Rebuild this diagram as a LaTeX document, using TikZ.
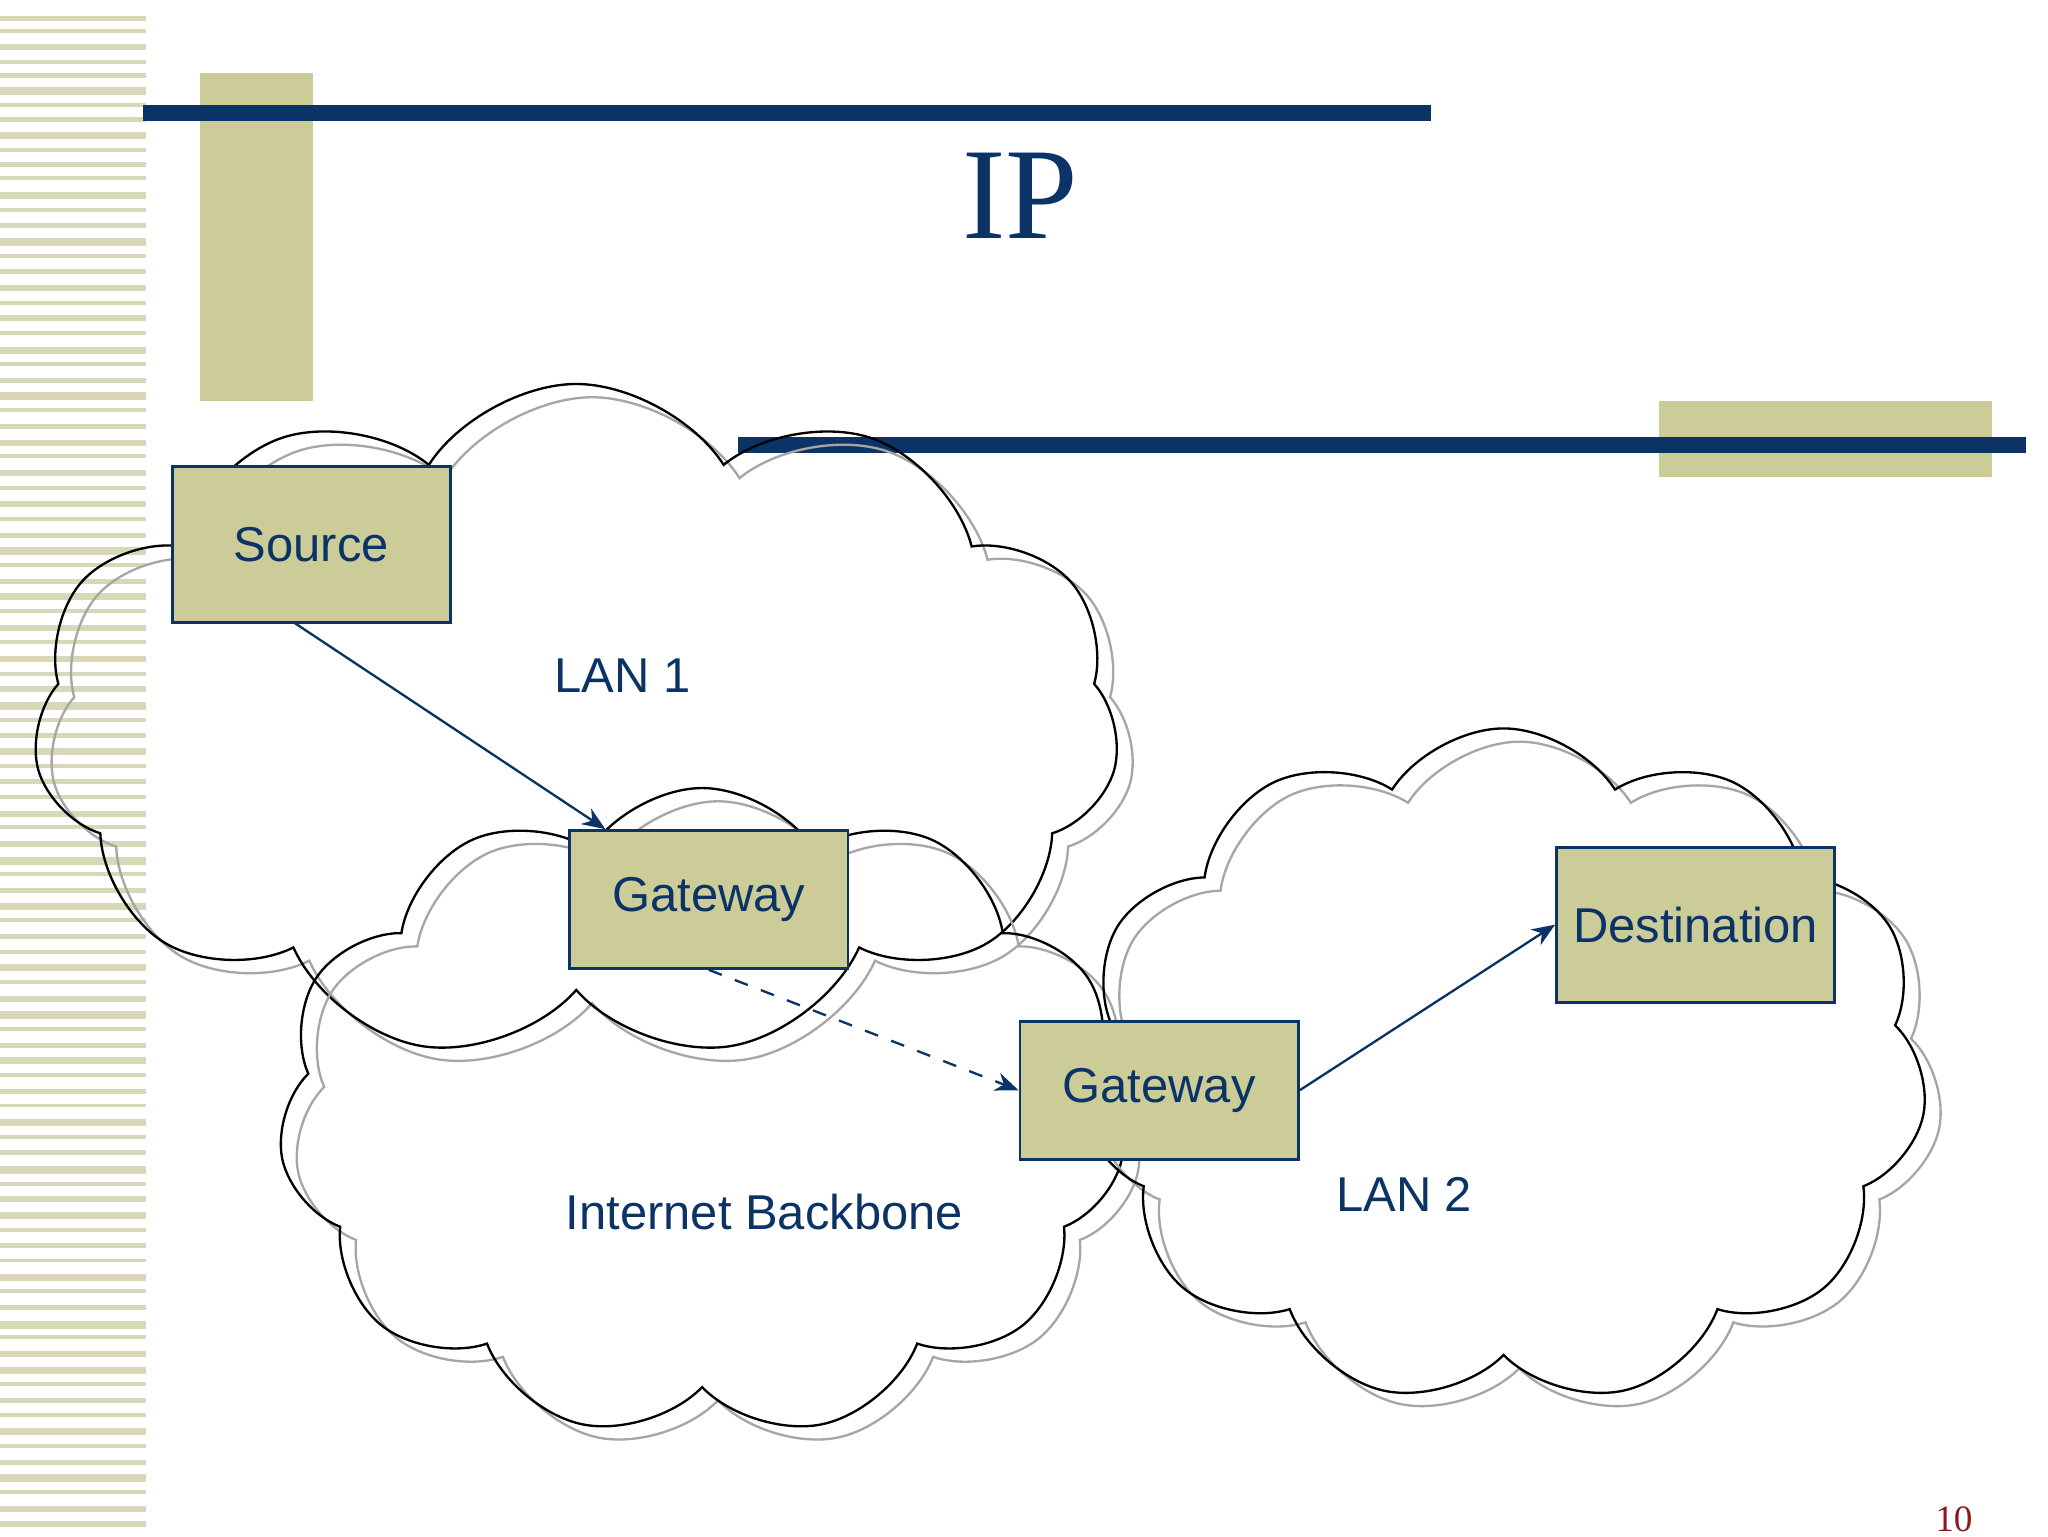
\documentclass[tikz,border=0pt]{standalone}
\usepackage{fontspec}
\setmainfont{Liberation Serif}
\newfontfamily\sans{Liberation Sans}
\usetikzlibrary{shapes.symbols,arrows.meta}
\definecolor{navy}{HTML}{0B3366}
\definecolor{olive}{HTML}{CCCC99}
\definecolor{stripe}{HTML}{D8D8B8}
\definecolor{dred}{HTML}{8B1A1A}
\begin{document}
\begin{tikzpicture}[x=0.01cm,y=-0.01cm,
  box/.style={draw=navy,fill=olive,line width=0.6pt,minimum width=2.1cm,inner sep=0pt,font=\sans\fontsize{10.5}{12}\selectfont,text=navy},
  lbl/.style={font=\sans\fontsize{10.5}{12}\selectfont,text=navy},
  cl/.style={cloud,cloud puffs=11,cloud puff arc=115,aspect=1.4,draw,line width=0.5pt,inner sep=0pt},
  conn/.style={draw=navy,line width=0.5pt,-{Stealth[length=5pt,width=4pt]}}]
\useasboundingbox (0,0) rectangle (1546,1160);
% left stripes
\foreach \y/\t in {12/4,22/3,33/5,45/3,55/4,66/6,78/3,88/4,100/5,112/3,122/4,133/3,145/5,157/3,168/4,180/6,192/3,203/4,215/5,227/3,238/4,250/3,262/5,273/3,285/4,296/6,308/3,320/4,332/5,343/3,355/4,367/3,378/5,390/3,402/4,413/6,425/3,437/4,448/5,460/3,472/4,483/3,495/5,507/3,518/4,530/6,542/3,553/4,565/5,577/3,588/4,600/3,612/5,623/3,635/4,647/6,658/3,670/4,682/5,693/3,705/4,717/3,728/5,740/3,752/4,763/6,775/3,787/4,798/5,810/3,822/4,833/3,845/5,857/3,868/4,880/6,892/3,903/4,915/5,927/3,938/4,950/3,962/5,973/3,985/4,997/6,1008/3,1020/4,1032/5,1043/3,1055/4,1067/3,1078/5,1090/3,1102/4,1113/6,1125/3,1137/4,1148/5}
  \fill[stripe] (0,\y) rectangle (110,\y+\t);
% decorations
\fill[olive] (151,55) rectangle (236,303);
\fill[navy] (108,79) rectangle (1080,91);
\fill[olive] (1252,303) rectangle (1504,360);
\fill[navy] (557,330) rectangle (1529,342);
\node[text=navy,font=\fontsize{28}{30}\selectfont] (title) at (770,148) {IP};
% clouds (shadow + outline)
\node[cl,draw=gray!70,minimum width=8.2cm,minimum height=5.1cm] (s1) at (447,555) {};
\node[cl,minimum width=8.2cm,minimum height=5.1cm] (lan1c) at (435,545) {};
\node[cl,draw=gray!70,minimum width=6.4cm,minimum height=4.9cm] (s2) at (542,850) {};
\node[cl,minimum width=6.4cm,minimum height=4.9cm] (bbc) at (530,840) {};
\node[cl,draw=gray!70,minimum width=6.4cm,minimum height=5.1cm] (s3) at (1147,815) {};
\node[cl,minimum width=6.4cm,minimum height=5.1cm] (lan2c) at (1135,805) {};
% labels
\node[lbl] (l1) at (470,510) {LAN 1};
\node[lbl] (bb) at (577,915) {Internet Backbone};
\node[lbl] (l2) at (1060,902) {LAN 2};
% boxes
\node[box,minimum height=1.18cm] (src) at (235,411) {Source};
\node[box,minimum height=1.04cm] (g1) at (535,679) {Gateway};
\node[box,minimum height=1.04cm] (g2) at (875,823) {Gateway};
\node[box,minimum height=1.17cm] (dst) at (1280,698) {Destination};
% connectors
\draw[conn] (222,470) -- (g1.north west -| 457,0);
\draw[conn,dashed] (g1.south) -- (g2.west);
\draw[conn] (g2.east) -- (dst.west);
\node[text=dred,font=\fontsize{8}{9}\selectfont] (pn) at (1475,1147) {10};
\end{tikzpicture}
\end{document}
